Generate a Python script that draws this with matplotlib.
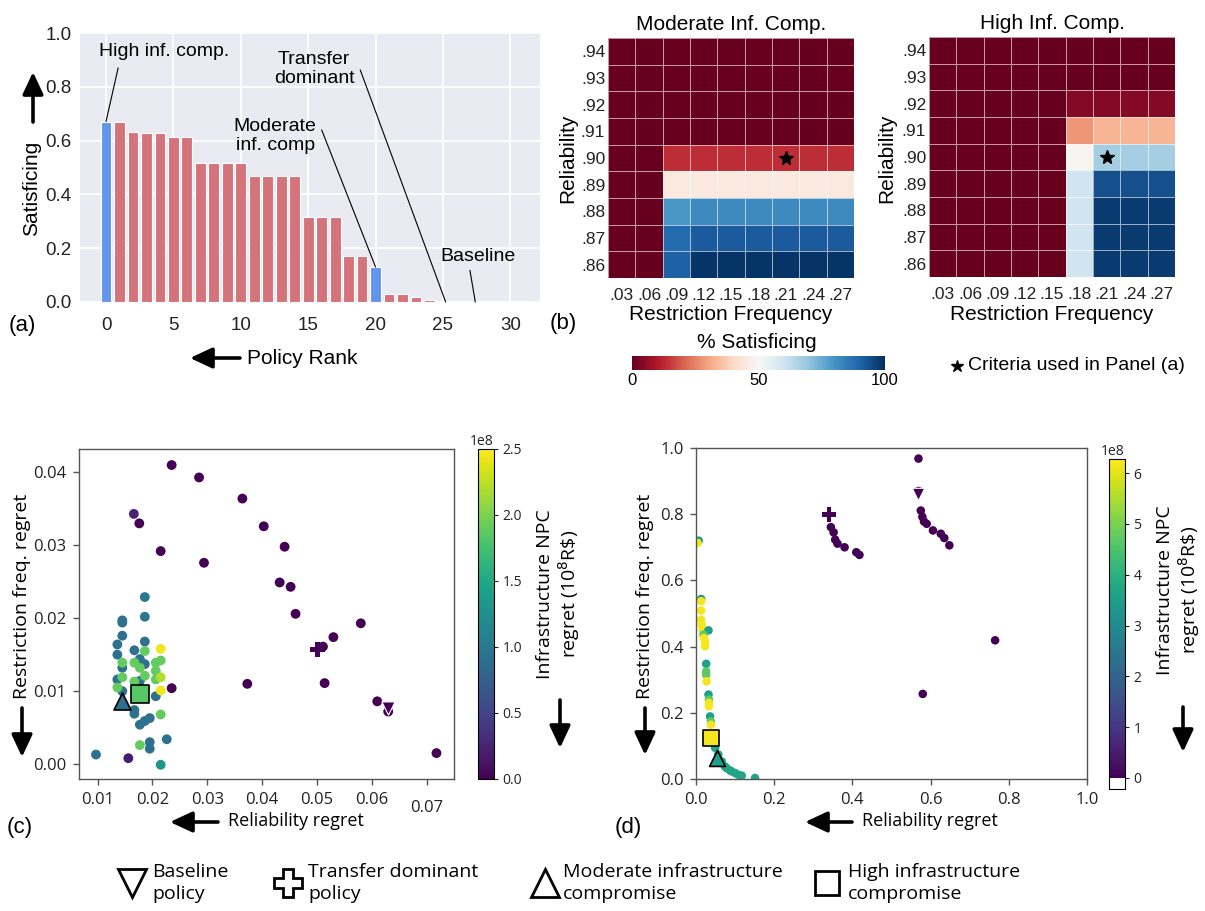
import numpy as np
import matplotlib
matplotlib.use('Agg')
import matplotlib.pyplot as plt
from matplotlib.colors import Normalize
from matplotlib.cm import ScalarMappable
from matplotlib import font_manager

# ---------------- data ----------------
# Panel (a)
policy_rank = list(range(30))
satisficing = [0.671, 0.671, 0.633, 0.627, 0.627, 0.612, 0.612, 0.518, 0.518, 0.518,
               0.518, 0.468, 0.468, 0.468, 0.468, 0.317, 0.317, 0.317, 0.172, 0.172,
               0.130, 0.031, 0.031, 0.019, 0.009, 0.0, 0.0, 0.0, 0.0, 0.0]
highlight_ranks = [0, 20]

# Panel (b)
rel_labels = ['.94', '.93', '.92', '.91', '.90', '.89', '.88', '.87', '.86']
freq_labels = ['.03', '.06', '.09', '.12', '.15', '.18', '.21', '.24', '.27']
moderate_pct = [
    [0, 0, 0, 0, 0, 0, 0, 0, 0],
    [0, 0, 0, 0, 0, 0, 0, 0, 0],
    [0, 0, 0, 0, 0, 0, 0, 0, 0],
    [0, 0, 0, 0, 0, 0, 0, 0, 0],
    [0, 0, 13, 13, 13, 13, 13, 13, 13],
    [0, 0, 45, 45, 45, 45, 45, 45, 45],
    [0, 0, 79, 82, 82, 82, 82, 82, 82],
    [0, 0, 89, 92, 92, 92, 92, 92, 92],
    [0, 0, 91, 99, 99, 99, 99, 99, 99],
]
high_pct = [
    [0, 0, 0, 0, 0, 0, 0, 0, 0],
    [0, 0, 0, 0, 0, 0, 0, 0, 0],
    [0, 0, 0, 0, 0, 4, 4, 4, 4],
    [0, 0, 0, 0, 0, 28, 33, 33, 33],
    [0, 0, 0, 0, 0, 49, 67, 67, 67],
    [0, 0, 0, 0, 0, 60, 94, 94, 94],
    [0, 0, 0, 0, 0, 60, 98, 98, 98],
    [0, 0, 0, 0, 0, 60, 98, 98, 98],
    [0, 0, 0, 0, 0, 60, 98, 98, 98],
]
star_freq, star_rel = '.21', '.90'

# Panel (c): reliability regret, restriction freq. regret, infrastructure NPC regret (1e8 R$)
c_rel = [0.0235, 0.0285, 0.0364, 0.0166, 0.0176, 0.0403, 0.0441, 0.0215, 0.0294, 0.0432,
         0.0452, 0.0461, 0.0373, 0.0235, 0.0156, 0.0580, 0.0530, 0.0514, 0.0610, 0.0511,
         0.0630, 0.0718,
         0.0186, 0.0186, 0.0145, 0.0145, 0.0186, 0.0145, 0.0136, 0.0136, 0.0167, 0.0177,
         0.0186, 0.0145, 0.0136, 0.0177, 0.0145, 0.0206, 0.0167, 0.0167, 0.0195, 0.0186,
         0.0177, 0.0226, 0.0195, 0.0195, 0.0097, 0.0215,
         0.0186, 0.0215, 0.0206, 0.0167, 0.0145, 0.0177, 0.0186, 0.0206, 0.0145, 0.0167,
         0.0206, 0.0136, 0.0215, 0.0177,
         0.0215, 0.0215, 0.0215]
c_freq = [0.0410, 0.0393, 0.0364, 0.0343, 0.0330, 0.0326, 0.0298, 0.0292, 0.0276, 0.0249,
          0.0243, 0.0206, 0.0110, 0.0104, 0.0008, 0.0193, 0.0174, 0.0111, 0.0086, 0.0161,
          0.0072, 0.0015,
          0.0229, 0.0202, 0.0197, 0.0194, 0.0168, 0.0176, 0.0164, 0.0150, 0.0156, 0.0144,
          0.0137, 0.0132, 0.0116, 0.0114, 0.0100, 0.0093, 0.0074, 0.0069, 0.0063, 0.0059,
          0.0054, 0.0034, 0.0030, 0.0021, 0.0013, -0.0001,
          0.0155, 0.0142, 0.0139, 0.0139, 0.0139, 0.0132, 0.0121, 0.0128, 0.0119, 0.0113,
          0.0116, 0.0105, 0.0068, 0.0026,
          0.0158, 0.0119, 0.0101]
c_npc = [0.0, 0.0, 0.0, 0.25, 0.0, 0.0, 0.0, 0.0, 0.0, 0.0,
         0.0, 0.0, 0.0, 0.0, 0.2, 0.0, 0.0, 0.0, 0.0, 0.0,
         0.0, 0.0,
         1.0, 1.0, 0.92, 0.92, 0.92, 0.92, 0.92, 0.92, 0.92, 0.92,
         0.92, 0.92, 0.92, 0.92, 0.92, 0.92, 0.92, 0.92, 0.92, 0.92,
         0.92, 0.92, 0.92, 0.92, 0.92, 1.3,
         1.9, 1.9, 1.9, 1.9, 1.9, 1.9, 1.9, 1.9, 1.9, 1.9,
         1.9, 1.9, 1.9, 1.9,
         2.45, 2.2, 2.45]
c_baseline = (0.0630, 0.0077, 0.0)
c_transfer = (0.0501, 0.0157, 0.0)
c_moderate = (0.0145, 0.0087, 0.92)
c_high = (0.0177, 0.0096, 1.85)

# Panel (d)
d_rel = [0.345, 0.352, 0.356, 0.362, 0.380, 0.410, 0.418,
         0.569, 0.569, 0.575, 0.579, 0.583, 0.590, 0.606, 0.626, 0.635, 0.648, 0.765, 0.580,
         0.007, 0.004, 0.013, 0.013, 0.013, 0.013, 0.0145, 0.017, 0.032, 0.019, 0.020, 0.023,
         0.023, 0.026, 0.026, 0.026, 0.027, 0.032, 0.033, 0.033, 0.033, 0.036, 0.038, 0.038,
         0.044, 0.049, 0.057, 0.066, 0.074, 0.078, 0.087, 0.091, 0.100, 0.108, 0.117, 0.151]
d_freq = [0.761, 0.745, 0.723, 0.711, 0.700, 0.685, 0.677,
          0.968, 0.870, 0.811, 0.792, 0.778, 0.771, 0.751, 0.741, 0.728, 0.706, 0.419, 0.257,
          0.720, 0.713, 0.544, 0.537, 0.509, 0.481, 0.466, 0.451, 0.449, 0.436, 0.426, 0.416,
          0.401, 0.348, 0.325, 0.315, 0.295, 0.255, 0.240, 0.230, 0.220, 0.189, 0.174, 0.164,
          0.114, 0.094, 0.074, 0.053, 0.038, 0.033, 0.026, 0.023, 0.018, 0.013, 0.010, 0.003]
d_npc = [0.0] * 7 + [0.0] * 12 + [
    3.5, 6.2, 3.5, 6.2, 6.2, 6.2, 6.2, 6.2, 3.5, 4.7, 6.2, 6.2,
    6.2, 3.5, 4.7, 4.7, 6.2, 3.5, 4.7, 6.2, 6.2, 3.5, 4.7, 6.2,
    3.7, 3.7, 3.7, 3.7, 3.7, 3.7, 3.7, 3.7, 3.7, 3.7, 3.7, 3.7]
d_baseline = (0.569, 0.862, 0.0)
d_transfer = (0.340, 0.799, 0.0)
d_moderate = (0.053, 0.063, 3.5)
d_high = (0.038, 0.124, 6.2)

# ---------------- figure ----------------
W, H = 1205, 911
fig = plt.figure(figsize=(W / 100, H / 100), dpi=100)
plt.rcParams['font.family'] = ['Liberation Sans', 'DejaVu Sans']
names = {f.name for f in font_manager.fontManager.ttflist}
OPEN = 'Open Sans' if 'Open Sans' in names else 'DejaVu Sans'


def px_axes(l, t, r, b, **kw):
    return fig.add_axes([l / W, 1 - b / H, (r - l) / W, (b - t) / H], **kw)


# ---- Panel (a) ----
axa = px_axes(80, 33, 540, 302)
axa.set_facecolor('#EAEAF2')
bar_colors = ['#6495ED' if r in highlight_ranks else '#D4737A' for r in policy_rank]
axa.bar(policy_rank, satisficing, width=0.8, color=bar_colors, edgecolor='white',
        linewidth=0.8, zorder=2)
axa.set_xlim(-1.93, 32.2)
axa.set_ylim(0, 1.0)
axa.set_xticks(range(0, 31, 5))
axa.set_yticks(np.round(np.arange(0, 1.01, 0.2), 1))
axa.yaxis.set_major_formatter(matplotlib.ticker.FormatStrFormatter('%.1f'))
axa.grid(color='white', lw=1.3)
axa.set_axisbelow(True)
for s in axa.spines.values():
    s.set_visible(False)
axa.tick_params(axis='both', length=0, labelsize=13.5, colors='#222222')
axa.tick_params(axis='x', pad=11)
axa.tick_params(axis='y', pad=6)

ann_kw = dict(arrowprops=dict(arrowstyle='-', lw=0.8, color='k', shrinkA=0, shrinkB=0))
axa.annotate('', xy=(policy_rank[0], satisficing[0]), xytext=(0.9, 0.87), **ann_kw)
axa.text(4.3, 0.932, 'High inf. comp.', ha='center', va='center', fontsize=14)
axa.annotate('', xy=(policy_rank[20], satisficing[20]), xytext=(16.0, 0.64), **ann_kw)
axa.text(12.55, 0.618, 'Moderate\ninf. comp', ha='center', va='center', fontsize=14,
         linespacing=1.15)
axa.annotate('', xy=(25.2, 0.0), xytext=(18.86, 0.863), **ann_kw)
axa.text(15.45, 0.866, 'Transfer\ndominant', ha='center', va='center', fontsize=14,
         linespacing=1.15)
axa.annotate('', xy=(27.4, 0.0), xytext=(27.0, 0.118), **ann_kw)
axa.text(27.57, 0.168, 'Baseline', ha='center', va='center', fontsize=14)

# ---- Panel (b) heatmaps ----
norm_b = Normalize(0, 100)


def heatmap(ax, values, title):
    ax.pcolormesh(np.array(values, dtype=float), cmap='RdBu', norm=norm_b,
                  edgecolors=(1, 1, 1, 0.6), linewidth=0.6)
    ax.set_xlim(0, len(freq_labels))
    ax.set_ylim(len(rel_labels), 0)
    ax.set_xticks(np.arange(len(freq_labels)) + 0.5)
    ax.set_xticklabels(freq_labels)
    ax.set_yticks(np.arange(len(rel_labels)) + 0.5)
    ax.set_yticklabels(rel_labels)
    ax.tick_params(length=0, labelsize=12.5, colors='#222222')
    ax.tick_params(axis='x', pad=7)
    ax.tick_params(axis='y', pad=2)
    for s in ax.spines.values():
        s.set_visible(False)
    ax.set_title(title, fontsize=15, pad=6)
    ax.plot(freq_labels.index(star_freq) + 0.5, rel_labels.index(star_rel) + 0.5,
            marker='*', color='k', ms=10, ls='none')


axb1 = px_axes(608, 38, 854, 278)
heatmap(axb1, moderate_pct, 'Moderate Inf. Comp.')
axb2 = px_axes(929, 37, 1175, 277)
heatmap(axb2, high_pct, 'High Inf. Comp.')

caxb = px_axes(632, 356, 885, 370)
cbb = fig.colorbar(ScalarMappable(norm=norm_b, cmap='RdBu'), cax=caxb,
                   orientation='horizontal')
cbb.outline.set_visible(False)
cbb.set_ticks([0, 50, 100])
caxb.tick_params(length=0, labelsize=12, pad=2)

# ---- Panel (c) ----
norm_c = Normalize(0, 2.5e8)
axc = px_axes(79, 449, 454, 779)
axc.scatter(c_rel, c_freq, c=np.array(c_npc) * 1e8, cmap='viridis', norm=norm_c,
            s=50, linewidths=0, zorder=2)
axc.scatter([c_moderate[0]], [c_moderate[1]], c=[c_moderate[2] * 1e8], cmap='viridis',
            norm=norm_c, marker='^', s=150, edgecolors='k', linewidths=1.2, zorder=3)
axc.scatter([c_high[0]], [c_high[1]], c=[c_high[2] * 1e8], cmap='viridis',
            norm=norm_c, marker='s', s=150, edgecolors='k', linewidths=1.2, zorder=3)
axc.scatter([c_transfer[0]], [c_transfer[1]], c=[c_transfer[2] * 1e8], cmap='viridis',
            norm=norm_c, marker='P', s=120, edgecolors='none', zorder=3)
axc.scatter([c_baseline[0]], [c_baseline[1]], c=[c_baseline[2] * 1e8], cmap='viridis',
            norm=norm_c, marker='v', s=90, edgecolors='white', linewidths=0.8, zorder=3)
axc.set_xlim(0.0066, 0.075)
axc.set_ylim(-0.00205, 0.0432)
axc.set_xticks([0.01, 0.02, 0.03, 0.04, 0.05, 0.06, 0.07])
axc.set_xticklabels(['0.01', '0.02', '0.03', '0.04', '0.05', '0.06', ''])
axc.text(0.07, -0.088, '0.07', transform=axc.get_xaxis_transform(), ha='center',
         va='center', fontsize=12, family=OPEN, color='#222222')
axc.set_yticks([0.0, 0.01, 0.02, 0.03, 0.04])
axc.set_yticklabels(['0.00', '0.01', '0.02', '0.03', '0.04'])

caxc = px_axes(478, 449, 494, 779)
cbc = fig.colorbar(ScalarMappable(norm=norm_c, cmap='viridis'), cax=caxc)
cbc.set_ticks([0, 0.5e8, 1.0e8, 1.5e8, 2.0e8, 2.5e8])

# ---- Panel (d) ----
cmap_d = plt.get_cmap('viridis').copy()
cmap_d.set_under('white')
norm_d = Normalize(0, 6.28e8)
axd = px_axes(696, 448, 1087, 779)
axd.scatter(d_rel, d_freq, c=np.array(d_npc) * 1e8, cmap=cmap_d, norm=norm_d,
            s=38, linewidths=0, zorder=2)
axd.scatter([d_moderate[0]], [d_moderate[1]], c=[d_moderate[2] * 1e8], cmap=cmap_d,
            norm=norm_d, marker='^', s=130, edgecolors='k', linewidths=1.2, zorder=3)
axd.scatter([d_high[0]], [d_high[1]], c=[d_high[2] * 1e8], cmap=cmap_d,
            norm=norm_d, marker='s', s=130, edgecolors='k', linewidths=1.2, zorder=3)
axd.scatter([d_transfer[0]], [d_transfer[1]], c=[d_transfer[2] * 1e8], cmap=cmap_d,
            norm=norm_d, marker='P', s=110, edgecolors='none', zorder=3)
axd.scatter([d_baseline[0]], [d_baseline[1]], c=[d_baseline[2] * 1e8], cmap=cmap_d,
            norm=norm_d, marker='v', s=80, edgecolors='white', linewidths=0.8, zorder=3)
axd.set_xlim(0, 1)
axd.set_ylim(0, 1)
axd.set_xticks(np.round(np.arange(0, 1.01, 0.2), 1))
axd.set_yticks(np.round(np.arange(0, 1.01, 0.2), 1))

caxd = px_axes(1109, 459, 1125, 789)
cbd = fig.colorbar(ScalarMappable(norm=norm_d, cmap=cmap_d), cax=caxd, extend='min',
                   extendrect=True, extendfrac=0.035)
cbd.set_ticks([0, 1e8, 2e8, 3e8, 4e8, 5e8, 6e8])

for ax in (axc, axd):
    for s in ax.spines.values():
        s.set_color('#555555')
        s.set_linewidth(1.0)
    ax.tick_params(length=4, width=1, color='#555555', labelsize=12, colors='#222222',
                   pad=5)
    for lab in ax.get_xticklabels() + ax.get_yticklabels():
        lab.set_family(OPEN)
for cax in (caxc, caxd):
    cax.tick_params(length=3, labelsize=10, colors='#222222', pad=3)
    for lab in cax.get_yticklabels():
        lab.set_family(OPEN)
    cax.yaxis.get_offset_text().set_fontsize(10)
    cax.yaxis.get_offset_text().set_family(OPEN)

# ---------------- overlay: labels, arrows, legend ----------------
ov = fig.add_axes([0, 0, 1, 1], zorder=10)
ov.set_xlim(0, W)
ov.set_ylim(H, 0)
ov.axis('off')
ov.patch.set_alpha(0)


def arrow(x1, y1, x2, y2):
    ov.annotate('', xy=(x2, y2), xytext=(x1, y1),
                arrowprops=dict(arrowstyle='-|>,head_length=0.9,head_width=0.42',
                                color='k', lw=2.6, mutation_scale=15,
                                shrinkA=0, shrinkB=0))


# panel (a)
ov.text(22, 326, '(a)', fontsize=16, ha='center', va='center')
ov.text(32, 188, 'Satisficing', fontsize=15, rotation=90, ha='center', va='center')
arrow(33, 122, 33, 72)
arrow(240, 358, 190, 358)
ov.text(247, 358, 'Policy Rank', fontsize=15, ha='left', va='center')

# panel (b)
ov.text(563, 324, '(b)', fontsize=16, ha='center', va='center')
ov.text(568, 158, 'Reliability', fontsize=15, rotation=90, ha='center', va='center')
ov.text(887, 158, 'Reliability', fontsize=15, rotation=90, ha='center', va='center')
ov.text(731, 315, 'Restriction Frequency', fontsize=15, ha='center', va='center')
ov.text(1052, 315, 'Restriction Frequency', fontsize=15, ha='center', va='center')
ov.text(757, 342, '% Satisficing', fontsize=15, ha='center', va='center')
ov.plot([957], [366], marker='*', color='k', ms=9)
ov.text(968, 365, 'Criteria used in Panel (a)', fontsize=14, ha='left', va='center')

# panel (c)
ov.text(20, 828, '(c)', fontsize=16, ha='center', va='center')
ov.text(22, 596, 'Restriction freq. regret', fontsize=14, rotation=90, ha='center',
        va='center', family=OPEN)
arrow(22, 708, 22, 757)
arrow(218, 822, 170, 822)
ov.text(228, 821, 'Reliability regret', fontsize=13, ha='left', va='center', family=OPEN)
ov.text(559, 594, 'Infrastructure NPC\nregret (10$^8$R\\$)', fontsize=14, rotation=90,
        ha='center', va='center', family=OPEN, linespacing=1.1)
arrow(560, 700, 560, 748)

# panel (d)
ov.text(628, 828, '(d)', fontsize=16, ha='center', va='center')
ov.text(645, 596, 'Restriction freq. regret', fontsize=14, rotation=90, ha='center',
        va='center', family=OPEN)
arrow(645, 708, 645, 755)
arrow(852, 822, 805, 822)
ov.text(862, 821, 'Reliability regret', fontsize=13, ha='left', va='center', family=OPEN)
ov.text(1179, 590, 'Infrastructure NPC\nregret (10$^8$R\\$)', fontsize=14, rotation=90,
        ha='center', va='center', family=OPEN, linespacing=1.1)
arrow(1183, 707, 1183, 752)

# bottom legend
leg_items = [('v', 132, 'Baseline\npolicy', 152),
             ('P', 288, 'Transfer dominant\npolicy', 308),
             ('^', 545, 'Moderate infrastructure\ncompromise', 563),
             ('s', 827, 'High infrastructure\ncompromise', 848)]
for mk, mx, label, tx in leg_items:
    ov.plot([mx], [883], marker=mk, ms=20 if mk != 's' else 17, mfc='white', mec='k',
            mew=2)
    ov.text(tx, 883, label, fontsize=14, ha='left', va='center', linespacing=1.3,
            family=OPEN)

fig.savefig('out.png', dpi=100)
